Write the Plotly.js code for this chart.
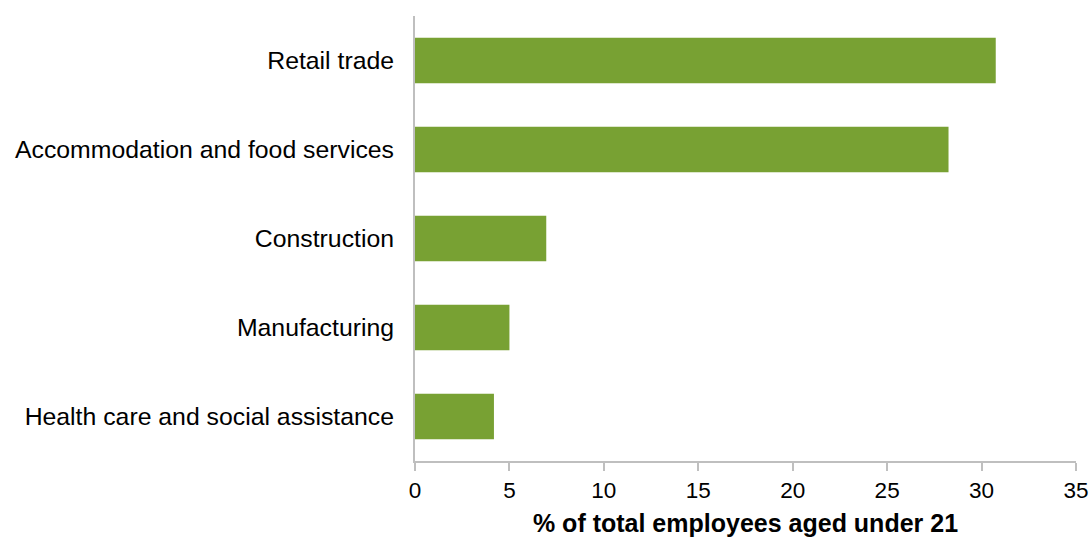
<!DOCTYPE html>
<html>
<head>
<meta charset="utf-8">
<script src="https://cdn.plot.ly/plotly-3.0.1.min.js"></script>
<style>html,body{margin:0;padding:0;background:#fff;}#chart{width:1092px;height:538px;}</style>
</head>
<body>
<div id="chart"></div>
<script>
const categories = ["Retail trade", "Accommodation and food services", "Construction", "Manufacturing", "Health care and social assistance"];
const values = [30.75, 28.25, 6.95, 5.0, 4.18];
const xTicks = [0, 5, 10, 15, 20, 25, 30, 35];
const xTitle = "% of total employees aged under 21";

const trace = {
  type: "bar",
  orientation: "h",
  x: values,
  y: categories,
  marker: {color: "#78a133"},
  hoverinfo: "x+y"
};

const layout = {
  width: 1092,
  height: 538,
  margin: {l: 415, r: 16, t: 16, b: 77},
  paper_bgcolor: "#fff",
  plot_bgcolor: "#fff",
  bargap: 0.49,
  showlegend: false,
  font: {family: "Liberation Sans, Arial, sans-serif", color: "#000", size: 22},
  xaxis: {
    range: [0, 35],
    tickvals: xTicks,
    ticktext: xTicks.map(String),
    showgrid: false,
    zeroline: false,
    showline: true,
    linecolor: "#bfbfbf",
    linewidth: 2,
    ticks: "outside",
    ticklen: 8,
    tickcolor: "#bfbfbf",
    tickwidth: 2,
    tickfont: {size: 22.5},
    title: {text: "<b>" + xTitle + "</b>", font: {size: 25}, standoff: 12}
  },
  yaxis: {
    autorange: "reversed",
    showgrid: false,
    zeroline: false,
    showline: true,
    linecolor: "#bfbfbf",
    linewidth: 2,
    ticks: "",
    ticklabelstandoff: 14,
    tickfont: {size: 24.8}
  }
};

Plotly.newPlot("chart", [trace], layout, {displayModeBar: false, staticPlot: true});
</script>
</body>
</html>
